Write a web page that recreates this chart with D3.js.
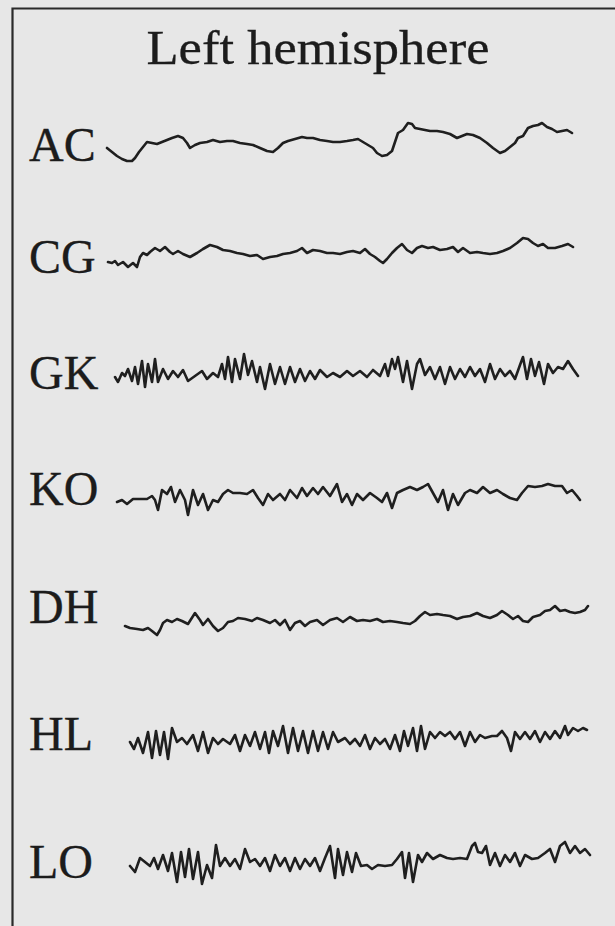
<!DOCTYPE html>
<html>
<head>
<meta charset="utf-8">
<script src="https://cdn.jsdelivr.net/npm/d3@7/dist/d3.min.js"></script>
<style>
  html, body { margin: 0; padding: 0; background: #e7e7e7; }
  svg { display: block; }
</style>
</head>
<body>
<svg id="chart" width="615" height="926"></svg>
<script>
// ---------------- DATA ----------------
const titleText = "Left hemisphere";
const channels = ["AC", "CG", "GK", "KO", "DH", "HL", "LO"];

// each trace: [time (ms), amplitude (µV)]
const traceAC = [[7,-3],[12,-7],[17,-11],[22,-14],[27,-16],[32,-16],[35,-13],[39,-7],[43,-2],[47,3],[52,2],[57,1],[62,3],[67,5],[72,7],[78,9],[83,7],[87,2],[90,-3],[95,0],[100,2],[107,3],[113,5],[120,3],[127,4],[133,4],[140,2],[147,1],[153,0],[160,-3],[167,-6],[173,-7],[178,-3],[183,2],[188,4],[195,6],[202,8],[207,7],[213,7],[220,5],[227,4],[233,3],[240,3],[247,4],[253,5],[258,6],[263,3],[268,0],[273,-3],[277,-8],[282,-11],[287,-10],[292,-6],[295,3],[298,12],[303,15],[308,22],[312,21],[315,17],[320,16],[325,15],[330,14],[337,14],[343,13],[350,11],[357,7],[362,9],[367,11],[373,10],[380,7],[387,2],[393,-3],[400,-8],[405,-6],[410,-2],[415,2],[418,7],[423,9],[428,17],[433,19],[438,20],[442,22],[447,18],[452,16],[457,13],[462,14],[467,15],[472,12]];

const traceCG = [[8,-10],[12,-11],[15,-9],[18,-13],[23,-10],[28,-15],[33,-11],[37,-15],[40,-5],[43,-1],[47,-3],[50,0],[55,4],[60,1],[65,5],[70,0],[73,-2],[78,1],[83,-2],[90,-5],[97,-1],[103,3],[110,7],[117,5],[123,2],[130,1],[137,-1],[143,-2],[150,-4],[157,-3],[163,-7],[170,-5],[177,-4],[183,-2],[190,-1],[197,1],[202,4],[207,-1],[213,2],[220,1],[227,-1],[233,-1],[240,-2],[247,0],[253,1],[260,-1],[265,3],[270,-2],[275,-5],[280,-9],[283,-11],[287,-7],[292,-1],[297,4],[302,8],[307,2],[312,-1],[317,4],[322,6],[328,4],[333,5],[340,2],[347,3],[353,5],[358,0],[363,4],[370,-1],[377,0],[383,-1],[390,-2],[397,-1],[403,1],[410,4],[417,9],[423,14],[428,13],[433,9],[438,6],[443,8],[448,4],[455,4],[462,6],[468,8],[473,5]];

const traceGK = [[15,-4],[18,-9],[22,0],[25,-3],[28,4],[32,-8],[35,6],[38,-11],[42,12],[45,-14],[48,9],[52,-9],[55,14],[58,-9],[63,4],[68,-6],[73,2],[78,-4],[83,3],[88,-8],[95,-3],[102,2],[107,-6],[113,0],[118,-4],[122,9],[125,-6],[128,16],[132,-9],[135,14],[140,-6],[144,19],[148,-2],[152,12],[157,-9],[160,6],[165,-16],[170,9],[175,-11],[180,6],[185,-11],[190,6],[195,-9],[200,4],[205,-8],[210,2],[215,-6],[220,3],[227,-4],[233,0],[240,-4],[247,2],[253,-3],[260,2],[267,-4],[273,3],[280,-3],[285,9],[288,-3],[292,14],[295,4],[298,16],[303,-9],[307,12],[312,-16],[317,9],[320,14],[325,-2],[330,6],[335,-6],[340,6],[345,-11],[350,6],[355,-6],[360,4],[365,-4],[370,6],[375,-3],[380,4],[385,-9],[390,9],[395,-6],[400,4],[405,-3],[410,2],[415,-6],[420,8],[423,16],[427,-6],[431,14],[435,-3],[439,11],[444,-11],[448,9],[453,0],[458,6],[463,4],[468,12],[473,4],[478,-3]];

const traceKO = [[17,-6],[22,-4],[27,-8],[33,-3],[40,-3],[47,-3],[52,0],[55,-4],[58,-14],[62,6],[67,2],[71,9],[75,-6],[80,6],[85,-4],[88,-19],[93,6],[98,-9],[103,2],[108,-14],[113,-4],[118,-6],[123,2],[128,6],[133,3],[140,3],[147,2],[153,6],[158,-2],[163,-9],[168,2],[173,-4],[180,2],[185,-4],[190,6],[197,-2],[202,8],[207,0],[213,8],[218,2],[223,9],[230,0],[237,12],[242,-6],[247,2],[252,-9],[257,2],[263,-4],[270,3],[277,-2],[282,-6],[287,3],[292,-12],[297,3],[303,6],[310,9],[317,6],[323,9],[328,12],[333,3],[338,-6],[343,6],[348,-14],[353,2],[358,-9],[365,3],[370,6],[377,3],[383,9],[390,3],[397,6],[403,2],[410,-2],[417,-4],[422,3],[428,10],[435,9],[442,10],[448,12],[455,10],[462,10],[467,3],[472,6],[477,0],[480,-4]];

const traceDH = [[25,-6],[30,-8],[37,-9],[43,-10],[48,-8],[52,-11],[57,-15],[60,-10],[63,-3],[67,0],[72,-2],[77,1],[82,-1],[88,-4],[95,7],[100,0],[103,-5],[108,1],[113,-6],[118,-11],[123,-8],[128,-2],[133,-1],[138,2],[145,1],[152,-1],[157,2],[163,0],[170,-3],[175,0],[180,-5],[185,0],[190,-10],[195,-3],[200,-1],[205,-6],[210,-2],[217,0],[223,-5],[230,0],[237,2],[243,-2],[250,3],[257,-1],[263,0],[270,-1],[277,1],[283,-2],[290,-1],[297,-2],[303,-3],[310,-4],[315,-1],[320,4],[325,8],[330,5],[337,6],[343,5],[350,4],[357,1],[363,3],[370,4],[377,7],[383,4],[390,2],[397,5],[402,9],[408,5],[413,1],[418,4],[423,-1],[428,-2],[433,3],[440,5],[445,9],[450,10],[455,14],[460,9],[465,10],[470,8],[475,7],[480,8],[485,10],[488,14]];

const traceHL = [[30,-7],[34,-14],[38,-3],[43,-18],[48,3],[52,-23],[56,4],[60,-20],[64,3],[68,-24],[72,7],[77,-7],[82,-3],[87,-9],[93,0],[98,-16],[103,3],[108,-18],[113,-3],[118,-9],[123,-4],[130,-9],[135,0],[140,-16],[145,0],[150,-11],[155,3],[160,-14],[165,3],[169,-18],[173,4],[178,-11],[183,9],[188,-18],[193,7],[198,-16],[203,4],[208,-18],[213,4],[218,-16],[223,3],[228,-14],[233,3],[238,-7],[245,-3],[250,-9],[255,-4],[260,-11],[265,0],[270,-14],[275,-3],[280,-9],[285,-4],[290,-14],[295,0],[300,-16],[304,4],[308,-11],[313,7],[317,-16],[321,9],[325,-14],[330,3],[335,-3],[340,3],[345,-1],[350,3],[355,-4],[360,3],[365,-11],[370,3],[375,-7],[380,0],[385,-3],[392,-1],[397,-1],[402,4],[407,-3],[411,-16],[415,3],[420,-4],[425,3],[430,-4],[435,4],[440,-7],[445,3],[450,-4],[455,4],[460,-3],[465,9],[468,0],[473,7],[478,4],[483,7],[487,5]];

const traceLO = [[30,-4],[35,-10],[40,4],[45,0],[50,-4],[54,4],[58,-7],[63,7],[68,-9],[72,9],[77,-20],[81,10],[85,-15],[89,13],[93,-17],[98,10],[102,-22],[107,-3],[112,-16],[116,17],[120,-4],[125,4],[130,-4],[135,3],[140,-7],[145,13],[150,0],[155,3],[160,-4],[165,4],[170,-9],[175,7],[180,-4],[185,4],[190,-9],[195,4],[200,-7],[205,3],[210,-4],[215,4],[220,-9],[225,4],[230,16],[235,-16],[238,13],[243,-13],[247,10],[252,-10],[256,9],[261,-4],[267,-3],[272,-7],[278,-3],[285,-4],[292,-3],[297,3],[302,10],[305,-16],[309,9],[313,-20],[318,7],[322,0],[327,9],[333,3],[340,7],[347,4],[353,3],[360,4],[367,3],[372,16],[375,19],[378,10],[382,9],[386,16],[390,-3],[395,9],[400,-4],[405,7],[410,0],[415,9],[420,-4],[425,7],[432,3],[438,4],[445,9],[450,13],[455,0],[460,16],[465,20],[470,9],[475,16],[480,9],[485,13],[490,7]];

const traces = [traceAC, traceCG, traceGK, traceKO, traceDH, traceHL, traceLO];

// ---------------- LAYOUT ----------------
const W = 615, H = 926;
const rowCenter = [145, 252, 373, 496, 620, 735, 862];
const labelBaseline = [161, 273, 389, 505, 623, 750, 878];

const svg = d3.select("#chart");

svg.append("rect").attr("width", W).attr("height", H).attr("fill", "#e7e7e7");

// frame
svg.append("path")
  .attr("d", `M12.5,${H + 5} L12.5,8.5 L${W + 5},8.5`)
  .attr("fill", "none")
  .attr("stroke", "#2a2a2a")
  .attr("stroke-width", 2.2);

// title
svg.append("text")
  .attr("x", 318).attr("y", 64)
  .attr("text-anchor", "middle")
  .attr("font-family", "'Liberation Serif', 'DejaVu Serif', serif")
  .attr("font-size", 48)
  .attr("fill", "#1c1c1c")
  .attr("stroke", "#1c1c1c")
  .attr("stroke-width", 0.3)
  .attr("textLength", 343)
  .attr("lengthAdjust", "spacingAndGlyphs")
  .text(titleText);

const x = d3.scaleLinear().domain([0, 500]).range([100, 600]);

channels.forEach((ch, i) => {
  svg.append("text")
    .attr("x", 29).attr("y", labelBaseline[i])
    .attr("font-family", "'Liberation Serif', 'DejaVu Serif', serif")
    .attr("font-size", 48)
    .attr("fill", "#1c1c1c")
    .attr("stroke", "#1c1c1c")
    .attr("stroke-width", 0.3)
    .text(ch);

  const y = d3.scaleLinear().domain([-40, 40]).range([rowCenter[i] + 40, rowCenter[i] - 40]);
  const line = d3.line().x(d => x(d[0])).y(d => y(d[1])).curve(d3.curveLinear);
  svg.append("path")
    .datum(traces[i])
    .attr("d", line)
    .attr("fill", "none")
    .attr("stroke", "#1f1f1f")
    .attr("stroke-width", 2.6)
    .attr("stroke-linejoin", "round")
    .attr("stroke-linecap", "round");
});
</script>
</body>
</html>
